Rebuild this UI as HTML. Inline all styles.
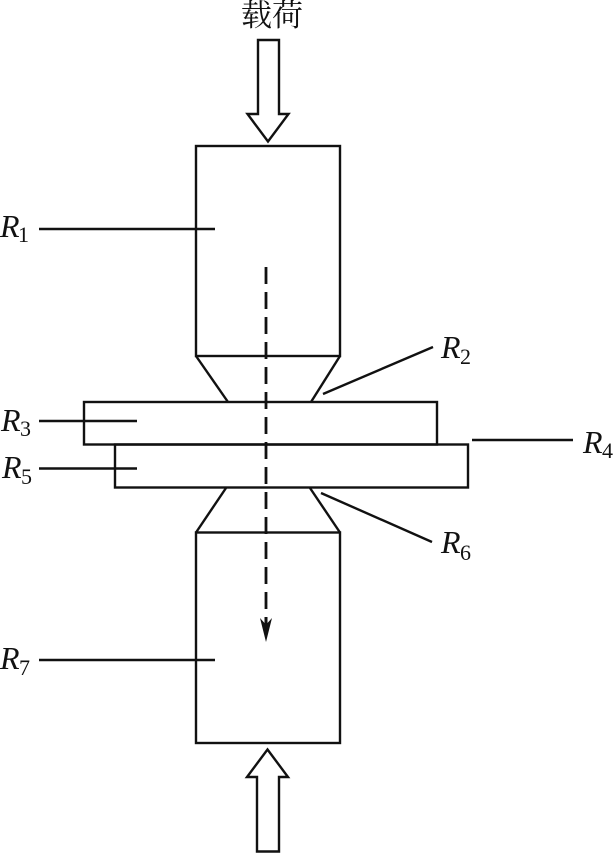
<!DOCTYPE html>
<html>
<head>
<meta charset="utf-8">
<style>
html,body{margin:0;padding:0;background:#fff;}
svg{display:block;}
text{fill:#111;}
.r{font-family:"Liberation Serif",serif;font-style:italic;font-size:32px;}
.s{font-family:"Liberation Serif",serif;font-size:22px;}
</style>
</head>
<body>
<svg width="613" height="853" viewBox="0 0 613 853" xmlns="http://www.w3.org/2000/svg">
<g fill="none" stroke="#111" stroke-width="2.4">
<!-- top arrow -->
<polygon points="258,40 279,40 279,114 288.500,114 268,141.500 247.500,114 258,114"/>
<!-- bottom arrow -->
<polygon points="267.500,749.500 288,777 279,777 279,851.500 257,851.500 257,777 247,777"/>
<!-- upper electrode -->
<rect x="196" y="146" width="144" height="210"/>
<polyline points="196,356 228,402"/>
<polyline points="340,356 311,402"/>
<!-- sheets -->
<rect x="84" y="402" width="353" height="42.500"/>
<rect x="115" y="444.500" width="353" height="43"/>
<!-- lower electrode -->
<rect x="196" y="532.500" width="144" height="210.500"/>
<polyline points="226,488 196,532.500"/>
<polyline points="310,488 340,532.500"/>
<!-- leaders -->
<line x1="39" y1="229" x2="215" y2="229"/>
<line x1="323" y1="394" x2="433" y2="347"/>
<line x1="39" y1="421" x2="137" y2="421"/>
<line x1="472" y1="440" x2="573" y2="440"/>
<line x1="39" y1="468.500" x2="137" y2="468.500"/>
<line x1="321" y1="493" x2="432" y2="542"/>
<line x1="39" y1="660" x2="215" y2="660"/>
<!-- dashed -->
<line x1="266" y1="267" x2="266" y2="609" stroke-width="2.800" stroke-dasharray="17,8"/>
</g>
<polygon points="266,642 260,618 264.500,623 264.500,617 267.500,617 267.500,623 272,618" fill="#111"/>
<text x="241" y="26" style="font-family:'Liberation Serif','Noto Serif CJK SC',serif;font-size:31px;">载荷</text>
<text class="r" x="0" y="237">R</text><text class="s" x="18" y="242">1</text>
<text class="r" x="441" y="358">R</text><text class="s" x="460" y="364">2</text>
<text class="r" x="1" y="431">R</text><text class="s" x="20" y="436">3</text>
<text class="r" x="583" y="453">R</text><text class="s" x="602" y="458">4</text>
<text class="r" x="2" y="478">R</text><text class="s" x="21" y="484">5</text>
<text class="r" x="441" y="553">R</text><text class="s" x="460" y="560">6</text>
<text class="r" x="0" y="669">R</text><text class="s" x="19" y="675">7</text>
</svg>
</body>
</html>
